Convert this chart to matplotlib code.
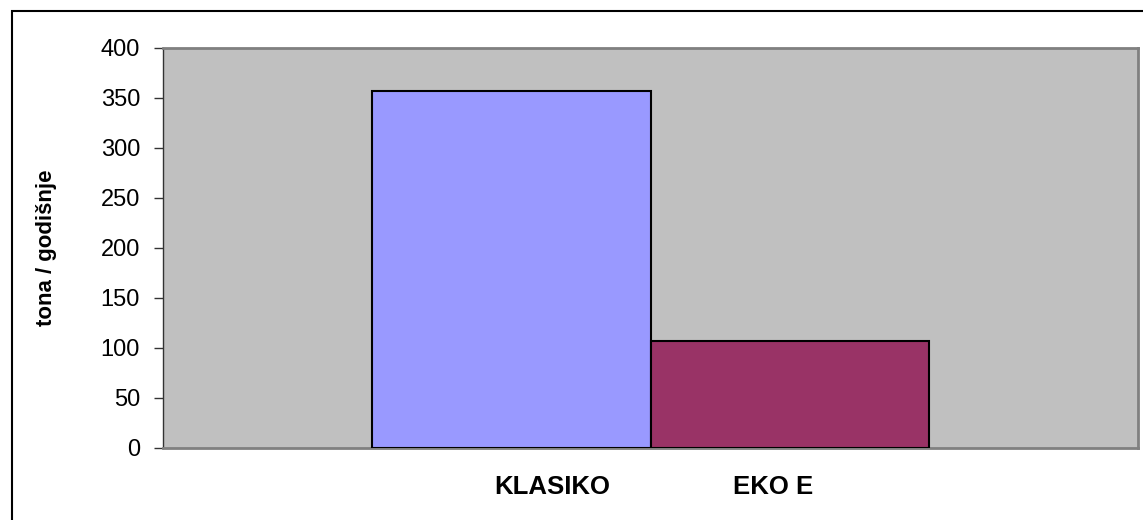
import matplotlib
matplotlib.use('Agg')
from matplotlib import pyplot as plt
from matplotlib.patches import Rectangle

plt.rcParams['font.family'] = ['Liberation Sans', 'DejaVu Sans']

series = ['KLASIKO', 'EKO E']
values = [357, 107]
colors = ['#9999FF', '#993366']
y_ticks = [0, 50, 100, 150, 200, 250, 300, 350, 400]

fig = plt.figure(figsize=(11.43, 5.2), dpi=100)
ax = fig.add_axes([163 / 1143, 1 - 448 / 520, 975 / 1143, 400 / 520])

# outer frame of the chart object
fig.patches.append(Rectangle((12 / 1143, -0.01), 1.0, 1 - 11 / 520 + 0.01,
                             transform=fig.transFigure, fill=False,
                             edgecolor='black', linewidth=1.5))

width = 0.286
offsets = [-width / 2, width / 2]
for off, v, c in zip(offsets, values, colors):
    ax.bar(off, v, width=width, color=c, edgecolor='black', linewidth=1.5, zorder=3)

ax.set_facecolor('#C0C0C0')
ax.set_xlim(-0.5, 0.5)
ax.set_ylim(0, 400)
ax.set_yticks(y_ticks)
ax.set_xticks([])
ax.tick_params(axis='y', direction='out', length=6.5, width=1, color='#333333',
               labelsize=17, pad=10)
for s in ['top', 'right', 'bottom']:
    ax.spines[s].set_color('#808080')
    ax.spines[s].set_linewidth(2)
ax.spines['left'].set_color('#333333')
ax.spines['left'].set_linewidth(1)

ax.set_ylabel('tona / godišnje', fontsize=16, fontweight='bold')
ax.yaxis.set_label_coords(-(163 - 57) / 975, 0.5)

label_x = [552, 773]
for name, x in zip(series, label_x):
    fig.text(x / 1143, 1 - 487 / 520, name, ha='center', va='center',
             fontsize=18.5, fontweight='bold')

fig.savefig('out.png', dpi=100)
